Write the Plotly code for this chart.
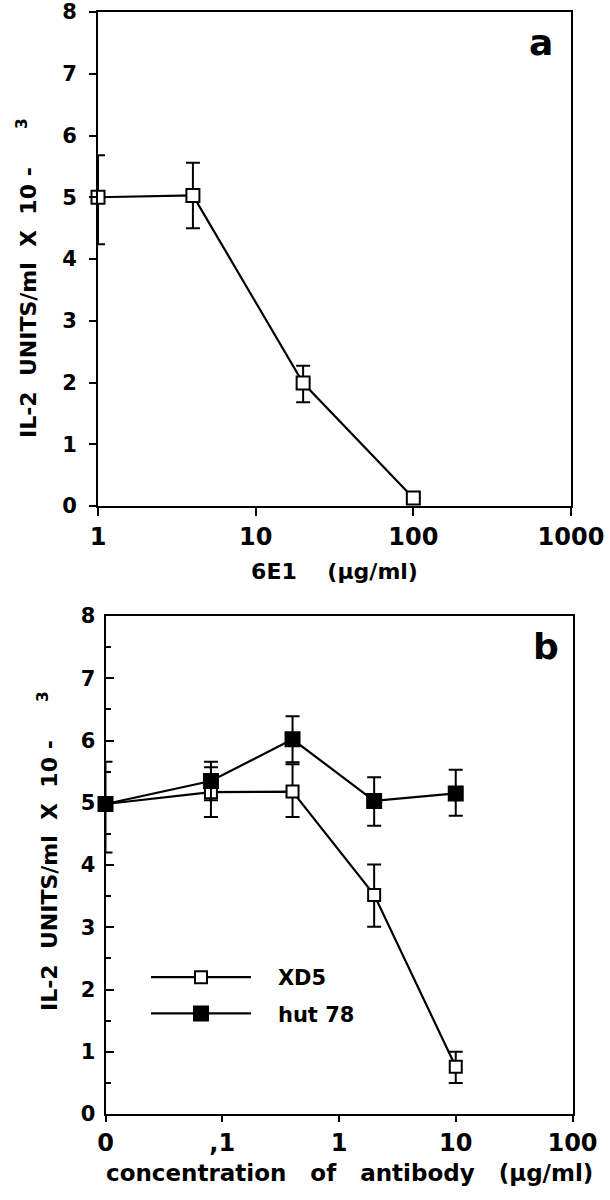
import plotly.graph_objects as go

# ---- data ----
a_conc = [1, 4, 20, 100]
a_il2 = [5.0, 5.03, 1.99, 0.13]
a_err_plus = [0.68, 0.53, 0.28, 0.0]
a_err_minus = [0.76, 0.53, 0.31, 0.0]

b_conc = [0.01, 0.08, 0.4, 2, 10]
xd5_il2 = [4.98, 5.17, 5.18, 3.52, 0.76]
xd5_err_plus = [0.68, 0.40, 0.44, 0.49, 0.24]
xd5_err_minus = [0.78, 0.40, 0.41, 0.51, 0.26]
hut_il2 = [4.98, 5.35, 6.02, 5.03, 5.15]
hut_err_plus = [0.0, 0.31, 0.37, 0.38, 0.38]
hut_err_minus = [0.0, 0.31, 0.37, 0.40, 0.36]

a_tickvals = [1, 10, 100, 1000]
a_ticktext = ["1", "10", "100", "1000"]
b_tickvals = [0.01, 0.1, 1, 10, 100]
b_ticktext = ["0", ",1", "1", "10", "100"]
y_tickvals = [0, 1, 2, 3, 4, 5, 6, 7, 8]

FONT = "DejaVu Sans"
W, H = 610, 1200
NB = "\u00a0"

y_title = ("IL-2" + NB * 2 + "UNITS/ml" + NB * 2 + "X" + NB * 2 + "10" + NB
           + "-" + NB * 5 + "<sup>3</sup>")
b_x_title = ("concentration" + NB * 3 + "of" + NB * 3 + "antibody" + NB * 3 + "(µg/ml)")

fig = go.Figure()

line_style = dict(color="black", width=2.2)

fig.add_trace(go.Scatter(
    x=a_conc, y=a_il2, mode="lines+markers", xaxis="x", yaxis="y",
    line=line_style, showlegend=False, cliponaxis=False,
    marker=dict(symbol="square", size=13, color="white", line=dict(color="black", width=2)),
    error_y=dict(type="data", symmetric=False, array=a_err_plus, arrayminus=a_err_minus,
                 color="black", thickness=2, width=7),
))

fig.add_trace(go.Scatter(
    x=b_conc, y=xd5_il2, mode="lines+markers", xaxis="x2", yaxis="y2",
    name=NB * 3 + "XD5",
    legendgroup="xd5", line=line_style, cliponaxis=False,
    marker=dict(symbol="square", size=12, color="white", line=dict(color="black", width=2)),
    error_y=dict(type="data", symmetric=False, array=xd5_err_plus, arrayminus=xd5_err_minus,
                 color="black", thickness=2, width=7),
))
fig.add_trace(go.Scatter(
    x=b_conc, y=hut_il2, mode="lines+markers", xaxis="x2", yaxis="y2",
    name=NB * 3 + "hut 78",
    legendgroup="hut", line=line_style, cliponaxis=False,
    marker=dict(symbol="square", size=14, color="black", line=dict(color="black", width=2)),
    error_y=dict(type="data", symmetric=False, array=hut_err_plus, arrayminus=hut_err_minus,
                 color="black", thickness=2, width=7),
))

axis_common = dict(showline=True, linecolor="black", linewidth=2, mirror=True,
                   showgrid=False, zeroline=False, ticks="outside", tickcolor="black",
                   tickwidth=2, automargin=False, ticklabeloverflow="allow")

fig.update_layout(
    width=W, height=H, plot_bgcolor="white", paper_bgcolor="white",
    margin=dict(l=0, r=0, t=0, b=0, autoexpand=False),
    font=dict(family=FONT, color="black", weight="bold"),
    xaxis=dict(**axis_common, type="log", range=[0, 3], domain=[98/W, 571/W],
               anchor="y", tickvals=a_tickvals, ticktext=a_ticktext, ticklen=8,
               tickfont=dict(size=24, family=FONT, weight="bold"),
               title=dict(text="6E1" + NB * 4 + "(µg/ml)",
                          font=dict(size=22, family=FONT, weight="bold"), standoff=14)),
    yaxis=dict(**axis_common, range=[0, 8], domain=[1-506/H, 1-12/H], anchor="x",
               tickvals=y_tickvals, ticklen=7, ticklabelstandoff=8,
               tickfont=dict(size=21, family=FONT, weight="bold")),
    xaxis2=dict(**axis_common, type="log", range=[-2, 2], domain=[105.5/W, 572.5/W],
                anchor="y2", tickvals=b_tickvals, ticktext=b_ticktext, ticklen=6,
                tickfont=dict(size=24, family=FONT, weight="bold")),
    yaxis2=dict(showline=True, linecolor="black", linewidth=2, mirror=True,
                showgrid=False, zeroline=False, ticks="inside", tickcolor="black",
                tickwidth=2, ticklen=8, range=[0, 8], domain=[1-1114/H, 1-616/H],
                anchor="x2", tickvals=y_tickvals, automargin=False,
                ticklabeloverflow="allow", ticklabelstandoff=4,
                tickfont=dict(size=21, family=FONT, weight="bold"),
                minor=dict(dtick=0.5, ticks="inside", ticklen=5, tickwidth=2, tickcolor="black",
                           showgrid=False)),
    legend=dict(x=146/W, y=1-957/H, xanchor="left", yanchor="top", bgcolor="rgba(0,0,0,0)",
                font=dict(size=21, family=FONT, weight="bold"), itemwidth=100,
                tracegroupgap=6),
    annotations=[
        dict(text=y_title, xref="paper", yref="paper",
             x=27/W, y=1-278/H, xanchor="center", yanchor="middle", textangle=-90,
             showarrow=False, font=dict(size=22, family=FONT, weight="bold")),
        dict(text=y_title, xref="paper", yref="paper",
             x=48/W, y=1-851/H, xanchor="center", yanchor="middle", textangle=-90,
             showarrow=False, font=dict(size=22, family=FONT, weight="bold")),
        dict(text=b_x_title, xref="paper", yref="paper",
             x=349/W, y=1-1173/H, xanchor="center", yanchor="middle",
             showarrow=False, font=dict(size=23, family=FONT, weight="bold")),
        dict(text="a", xref="paper", yref="paper", x=541/W, y=1-42/H,
             xanchor="center", yanchor="middle", showarrow=False,
             font=dict(size=36, family=FONT, weight="bold")),
        dict(text="b", xref="paper", yref="paper", x=546/W, y=1-646/H,
             xanchor="center", yanchor="middle", showarrow=False,
             font=dict(size=36, family=FONT, weight="bold")),
    ],
)

fig.write_html("out.html", config={"displayModeBar": False},
               post_script="document.body.style.margin='0';")
